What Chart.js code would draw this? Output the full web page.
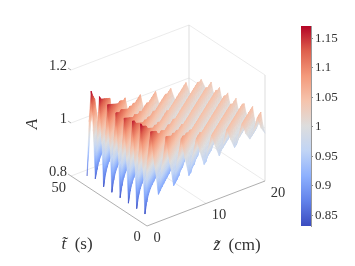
<!DOCTYPE html>
<html>
<head>
<meta charset="utf-8">
<style>
  body { margin: 0; background: white; }
  canvas { position: absolute; top: 0; }
</style>
<script src="https://cdn.jsdelivr.net/npm/chart.js@4"></script>
</head>
<body>
<canvas id="surface" width="355" height="266" style="left:0"></canvas>
<canvas id="colorbar" width="65" height="266" style="left:290px"></canvas>
<script>
// values
const zValues = [0,.65,1.29,1.94,2.58,3.23,3.87,4.52,5.16,5.81,6.45,7.1,7.74,8.39,9.03,9.68,10.32,10.97,11.61,12.26,12.9,13.55,14.19,14.84,15.48,16.13,16.77,17.42,18.06,18.71,19.35,20];
const tValues = [0,1.36,2.72,4.08,5.44,6.8,8.16,9.52,10.88,12.24,13.6,14.96,16.32,17.68,19.04,20.4,21.76,23.12,24.48,25.84,27.2,28.56,29.92,31.28,32.64,34,35.36,36.72,38.08,39.44];

// one row per z value, one column per t value
const surfaceA = [
  [1.04,.84,1.02,1.17,1.04,.84,1.03,1.16,1.03,.84,1.02,1.15,1.03,.84,1.02,1.15,1.04,.84,1.03,1.16,1.04,.84,1.03,1.17,1.04,.85,1.03,1.17,1.05,.84],
  [1.15,1.03,.875,1.02,1.15,1.03,.875,1.02,1.15,1.03,.875,1.02,1.14,1.02,.875,1.01,1.14,1.03,.875,1.02,1.15,1.03,.875,1.02,1.15,1.03,.875,1.02,1.14,1.04],
  [1.02,1.14,1.02,.893,1.02,1.14,1.02,.893,1.01,1.13,1.02,.893,1.01,1.13,1.02,.893,1.02,1.13,1.02,.893,1.02,1.14,1.02,.893,1.02,1.14,1.03,.893,1.02,1.12],
  [.903,1.01,1.13,1.02,.903,1.01,1.13,1.01,.903,1.01,1.12,1.01,.903,1.01,1.12,1.01,.903,1.01,1.13,1.02,.903,1.01,1.13,1.02,.903,1.02,1.13,1.02,.903,1.02],
  [1.01,.907,1.01,1.12,1.01,.907,1.01,1.11,1.01,.907,1.01,1.11,1.01,.907,1.01,1.11,1.01,.907,1.01,1.12,1.01,.907,1.01,1.12,1.02,.907,1.01,1.12,1.02,.907],
  [1.11,1.005,.91,1.005,1.10,1.005,.91,1,1.10,1.005,.91,1,1.10,1.005,.91,1,1.10,1.005,.91,1.005,1.11,1.005,.91,1.005,1.11,1.005,.91,1.005,1.11,1.01],
  [1.005,1.10,1.005,.912,1.005,1.09,1.005,.912,1,1.09,1.005,.912,1,1.09,1.005,.912,1,1.10,1.005,.912,1.005,1.10,1.005,.912,1.005,1.10,1.01,.912,1.005,1.10],
  [.914,1,1.09,1.005,.914,1,1.09,1,.914,1,1.08,1,.914,1,1.09,1,.914,1,1.09,1.005,.914,1.005,1.09,1.005,.914,1.005,1.10,1.005,.914,1.005],
  [1.005,.915,1,1.08,1.005,.915,1,1.08,1,.915,1,1.08,1,.915,1,1.08,1,.915,1,1.08,1.005,.915,1.005,1.09,1.005,.915,1.005,1.09,1.005,.915],
  [1.08,1,.917,1,1.08,1,.917,1,1.07,1,.917,1,1.07,1,.917,1,1.08,1,.917,1,1.08,1.005,.917,1.005,1.08,1.005,.917,1.005,1.08,1.005],
  [1,1.08,1,.92,1,1.07,1,.92,1,1.07,1,.93,1,1.07,1,.92,1,1.07,1,.92,1.005,1.07,1.005,.92,1.005,1.08,1.005,.92,1.005,1.08],
  [.93,1,1.07,1,.93,1,1.07,1,.93,1,1.07,1,.93,1,1.06,1,.93,1,1.07,1,.93,1,1.07,1.005,.93,1.005,1.07,1.005,.93,1.005],
  [1,.93,1,1.07,1,.93,1,1.06,1,.94,1,1.06,1,.93,1,1.06,1,.93,1,1.07,1,.93,1.005,1.07,1.005,.93,1.005,1.07,1.005,.93],
  [1.06,1,.94,1,1.06,1,.94,1,1.06,1,.94,1,1.06,1,.94,1,1.06,1,.94,1,1.06,1,.94,1,1.07,1.005,.94,1.005,1.07,1.005],
  [1,1.06,1,.94,1,1.06,1,.95,1,1.06,1,.94,1,1.06,1,.94,1,1.06,1,.94,1,1.06,1,.94,1.005,1.06,1.005,.94,1.005,1.07],
  [.95,1,1.06,1,.95,1,1.05,1,.95,1,1.05,1,.95,1,1.05,1,.95,1,1.06,1,.95,1,1.06,1,.95,1,1.06,1.005,.95,1.005],
  [1,.95,1,1.05,1,.95,1,1.05,1,.96,1,1.05,1,.95,1,1.05,1,.95,1,1.05,1,.95,1,1.06,1,.95,1.005,1.06,1.005,.95],
  [1.05,1,.96,1,1.05,1,.96,1,1.05,1,.96,1,1.05,1,.96,1,1.05,1,.96,1,1.05,1,.96,1,1.06,1,.96,1.005,1.06,1.005],
  [1,1.05,1,.96,1,1.05,1,.96,1,1.05,1,.96,1,1.05,1,.96,1,1.05,1,.96,1,1.05,1,.96,1,1.06,1.005,.96,1.005,1.06],
  [.96,1,1.05,1,.96,1,1.05,1,.97,1,1.05,1,.97,1,1.05,1,.96,1,1.05,1,.96,1,1.05,1,.96,1.005,1.06,1.005,.96,1.005],
  [1,.97,1,1.05,1,.97,1,1.05,1,.97,1,1.05,1,.97,1,1.05,1,.97,1,1.05,1,.97,1,1.05,1.005,.97,1.005,1.05,1.005,.97],
  [1.05,1,.97,1,1.05,1,.97,1,1.05,1.005,.97,1,1.05,1,.97,1,1.05,1.005,.97,1,1.05,1.005,.97,1.005,1.05,1.005,.97,1.005,1.05,1.005],
  [1.005,1.05,1.005,.97,1,1.05,1.005,.97,1,1.05,1.005,.97,1,1.05,1.005,.97,1,1.05,1.005,.97,1.005,1.05,1.005,.97,1.005,1.05,1.005,.97,1.005,1.05],
  [.97,1.005,1.05,1.005,.97,1.005,1.05,1.005,.97,1.005,1.05,1.005,.97,1.005,1.05,1.005,.97,1.005,1.05,1.005,.97,1.005,1.05,1.005,.97,1.005,1.05,1.005,.97,1.005],
  [1.005,.97,1.005,1.05,1.005,.97,1.005,1.05,1.005,.97,1.005,1.05,1.005,.97,1.005,1.05,1.005,.97,1.005,1.05,1.005,.97,1.005,1.05,1.005,.97,1.005,1.05,1.005,.97],
  [1.05,1.005,.98,1.005,1.05,1.005,.97,1.005,1.05,1.005,.98,1.005,1.05,1.005,.98,1.005,1.05,1.005,.97,1.005,1.05,1.005,.98,1.005,1.05,1.005,.97,1.005,1.05,1.005],
  [1.005,1.05,1.005,.98,1.005,1.05,1.005,.98,1.005,1.05,1.005,.98,1.005,1.05,1.005,.98,1.005,1.05,1.005,.98,1.005,1.05,1.005,.98,1.005,1.05,1.005,.98,1.005,1.05],
  [.98,1.005,1.05,1.005,.98,1.005,1.05,1.005,.98,1.005,1.05,1.005,.98,1.005,1.05,1.005,.98,1.005,1.05,1.005,.98,1.005,1.05,1.005,.98,1.005,1.05,1.005,.98,1.005],
  [1.005,.98,1.005,1.05,1.005,.98,1.005,1.05,1.005,.98,1.005,1.05,1.005,.98,1.005,1.05,1.005,.98,1.005,1.05,1.005,.98,1.005,1.05,1.005,.98,1.005,1.05,1.005,.98],
  [1.05,1.005,.98,1.005,1.05,1.005,.98,1.005,1.05,1.005,.98,1.005,1.04,1.005,.98,1.005,1.05,1.005,.98,1.005,1.05,1.005,.98,1.005,1.04,1.005,.98,1.005,1.04,1.005],
  [1.005,1.05,1.005,.98,1.005,1.05,1.005,.98,1.005,1.05,1.005,.98,1.005,1.04,1.005,.98,1.005,1.04,1.005,.98,1.005,1.04,1.005,.98,1.005,1.04,1.005,.98,1.005,1.04],
  [.98,1.005,1.05,1.005,.98,1.005,1.05,1.005,.98,1.005,1.04,1.005,.98,1.005,1.04,1.005,.98,1.005,1.04,1.005,.98,1.005,1.04,1.005,.98,1.005,1.04,1.005,.98,1.005],
];

const zTicks = [0, 10, 20];
const tTicks = [0, 50];
const aTicks = [0.8, 1, 1.2];
const barTicks = [0.85, 0.9, 0.95, 1, 1.05, 1.1, 1.15];
const barMin = 0.832;
const barMax = 1.171;

// coolwarm
const cmapColors = [[59,76,192],[98,130,234],[141,176,254],[192,212,245],[221,221,221],[245,196,173],[244,154,123],[222,96,77],[180,4,38]];

const textColor = "#333";
const serif = "'Liberation Serif'";

function project(z, t, a) {
  return {
    x: 147 + 5.9 * z - 1.52 * t,
    y: 226 - 2.25 * z - t - 265 * (a - 0.8),
  };
}

function stopPos(a) {
  return Math.min(1, Math.max(0, (a - barMin) / (barMax - barMin)));
}

function colorAt(pos) {
  const f = pos * (cmapColors.length - 1);
  const i = Math.min(cmapColors.length - 2, Math.floor(f));
  const c = cmapColors[i].map((v, n) => v + (cmapColors[i + 1][n] - v) * (f - i));
  return `rgb(${c[0].toFixed(0)},${c[1].toFixed(0)},${c[2].toFixed(0)})`;
}

// gradient over a triangle, so colour follows A inside the cell
function triFill(chart, tri) {
  if (tri.paint) return tri.paint;
  const vals = tri.vals;
  const lo = Math.min(...vals);
  const hi = Math.max(...vals);
  const [p0, p1, p2] = tri.pts;
  const dx1 = p1.x - p0.x, dy1 = p1.y - p0.y, da1 = vals[1] - vals[0];
  const dx2 = p2.x - p0.x, dy2 = p2.y - p0.y, da2 = vals[2] - vals[0];
  const det = dx1 * dy2 - dx2 * dy1;
  if (hi === lo || Math.abs(det) < 0.01) {
    tri.paint = colorAt(stopPos((lo + hi) / 2));
    return tri.paint;
  }
  const gx = (da1 * dy2 - da2 * dy1) / det;
  const gy = (dx1 * da2 - dx2 * da1) / det;
  const g2 = gx * gx + gy * gy;
  const start = tri.pts[vals.indexOf(lo)];
  const grad = chart.ctx.createLinearGradient(
    start.x, start.y,
    start.x + gx * (hi - lo) / g2, start.y + gy * (hi - lo) / g2
  );
  const posLo = stopPos(lo);
  const posHi = stopPos(hi);
  grad.addColorStop(0, colorAt(posLo));
  const n = cmapColors.length - 1;
  for (let i = 1; i < n; i++) {
    const pos = i / n;
    if (pos > posLo && pos < posHi) {
      grad.addColorStop((pos - posLo) / (posHi - posLo), colorAt(pos));
    }
  }
  grad.addColorStop(1, colorAt(posHi));
  tri.paint = grad;
  return grad;
}

function triDataset(cells) {
  const pts = cells.map((c) => project(zValues[c[0]], tValues[c[1]], surfaceA[c[0]][c[1]]));
  const tri = { pts, vals: cells.map((c) => surfaceA[c[0]][c[1]]) };
  return {
    data: [pts[0], pts[1], pts[2], pts[0]],
    showLine: true,
    fill: "shape",
    pointRadius: 0,
    borderWidth: 0.5,
    backgroundColor: (c) => triFill(c.chart, tri),
    borderColor: (c) => triFill(c.chart, tri),
  };
}

function wire(from, to, color) {
  return {
    data: [project(...from), project(...to)],
    showLine: true,
    pointRadius: 0,
    borderWidth: 0.8,
    borderColor: color,
  };
}

const zEnd = zTicks[zTicks.length - 1];
const tEnd = tTicks[tTicks.length - 1];
const aLow = aTicks[0];
const aHigh = aTicks[aTicks.length - 1];
const pale = "#e6e6e6";
const mid = "#d4d4d4";
const dark = "#9a9a9a";

const datasets = [
  wire([0, tEnd, aHigh], [zEnd, tEnd, aHigh], pale),
  wire([zEnd, tEnd, aHigh], [zEnd, 0, aHigh], pale),
  wire([0, tEnd, 1], [zEnd, tEnd, 1], pale),
  wire([zEnd, tEnd, 1], [zEnd, 0, 1], pale),
  wire([0, tEnd, aLow], [zEnd, tEnd, aLow], pale),
  wire([zEnd, tEnd, aLow], [zEnd, 0, aLow], pale),
  wire([10, 0, aLow], [10, tEnd, aLow], pale),
  wire([zEnd, tEnd, aLow], [zEnd, tEnd, aHigh], mid),
  wire([zEnd, 0, aLow], [zEnd, 0, aHigh], mid),
  wire([0, 0, aLow], [0, tEnd, aLow], dark),
  wire([0, 0, aLow], [zEnd, 0, aLow], dark),
];
aTicks.forEach((a) => datasets.push(wire([0, tEnd, a], [0, tEnd + 2, a], dark)));

// far corner first, near corner last
for (let k = zValues.length - 2; k >= 0; k--) {
  for (let j = tValues.length - 2; j >= 0; j--) {
    datasets.push(triDataset([[k, j], [k, j + 1], [k + 1, j + 1]]));
    datasets.push(triDataset([[k, j], [k + 1, j], [k + 1, j + 1]]));
  }
}
// chart.js paints the first dataset last
datasets.reverse();

const axisText = {
  id: "axisText",
  afterDraw(chart) {
    const ctx = chart.ctx;
    const sx = chart.scales.x;
    const sy = chart.scales.y;
    ctx.textBaseline = "middle";
    ctx.fillStyle = textColor;
    const label = (text, p, dx, dy, size, align) => {
      ctx.font = `${size}px ${serif}`;
      ctx.textAlign = align;
      ctx.fillText(text, sx.getPixelForValue(p.x) + dx, sy.getPixelForValue(p.y) + dy);
    };
    // italic symbol followed by the upright unit, centred together
    const mathLabel = (symbol, unit, cx, cy, size) => {
      ctx.textAlign = "left";
      ctx.font = `italic ${size}px ${serif}`;
      const w1 = ctx.measureText(symbol).width;
      ctx.font = `${size}px ${serif}`;
      const w2 = ctx.measureText(unit).width;
      const left = cx - (w1 + w2) / 2;
      ctx.font = `italic ${size}px ${serif}`;
      ctx.fillText(symbol, left, cy);
      ctx.font = `${size}px ${serif}`;
      ctx.fillText(unit, left + w1, cy);
    };
    aTicks.forEach((a) => label(String(a), project(0, tEnd, a), -4, -4, 14.5, "right"));
    label("50", project(0, tEnd, aLow), -5, 12, 14.5, "right");
    label("0", project(0, 0, aLow), -10, 11, 14.5, "center");
    zTicks.forEach((z, i) => {
      const off = [[10, 12], [13, 12], [13, 12]][i];
      label(String(z), project(z, 0, aLow), off[0], off[1], 14.5, "center");
    });
    mathLabel("t\u0303", "  (s)", 77, 245, 17);
    mathLabel("z\u0303", "  (cm)", 237, 246, 17);
    ctx.save();
    ctx.translate(33, 124);
    ctx.rotate(-Math.PI / 2);
    ctx.font = `italic 17px ${serif}`;
    ctx.textAlign = "center";
    ctx.fillText("A", 0, 0);
    ctx.restore();
  },
};

new Chart(document.getElementById("surface").getContext("2d"), {
  type: "scatter",
  data: { datasets },
  plugins: [axisText],
  options: {
    responsive: false,
    animation: false,
    parsing: false,
    events: [],
    clip: false,
    plugins: { legend: { display: false }, tooltip: { enabled: false } },
    scales: {
      x: { type: "linear", min: 0, max: 355, display: false },
      y: { type: "linear", min: 0, max: 266, reverse: true, display: false },
    },
  },
});

new Chart(document.getElementById("colorbar").getContext("2d"), {
  type: "bar",
  data: {
    labels: ["A"],
    datasets: [
      {
        data: [[barMin, barMax]],
        barPercentage: 1,
        categoryPercentage: 1,
        backgroundColor: (c) => {
          const area = c.chart.chartArea;
          if (!area) return cmapColors[4];
          const grad = c.chart.ctx.createLinearGradient(0, area.bottom, 0, area.top);
          cmapColors.forEach((_, i) => {
            const pos = i / (cmapColors.length - 1);
            grad.addColorStop(pos, colorAt(pos));
          });
          return grad;
        },
      },
    ],
  },
  options: {
    responsive: false,
    animation: false,
    events: [],
    layout: { padding: { left: 11, top: 26, bottom: 40 } },
    plugins: { legend: { display: false }, tooltip: { enabled: false } },
    scales: {
      x: { display: false },
      y: {
        position: "right",
        min: barMin,
        max: barMax,
        afterBuildTicks: (axis) => {
          axis.ticks = barTicks.map((value) => ({ value }));
        },
        afterFit: (axis) => {
          axis.width = 44;
        },
        grid: { drawOnChartArea: false, tickLength: 2, color: "#888" },
        border: { color: "#999" },
        ticks: {
          padding: 2,
          color: textColor,
          font: { family: serif, size: 13 },
          callback: (v) => String(v),
        },
      },
    },
  },
});
</script>
</body>
</html>
